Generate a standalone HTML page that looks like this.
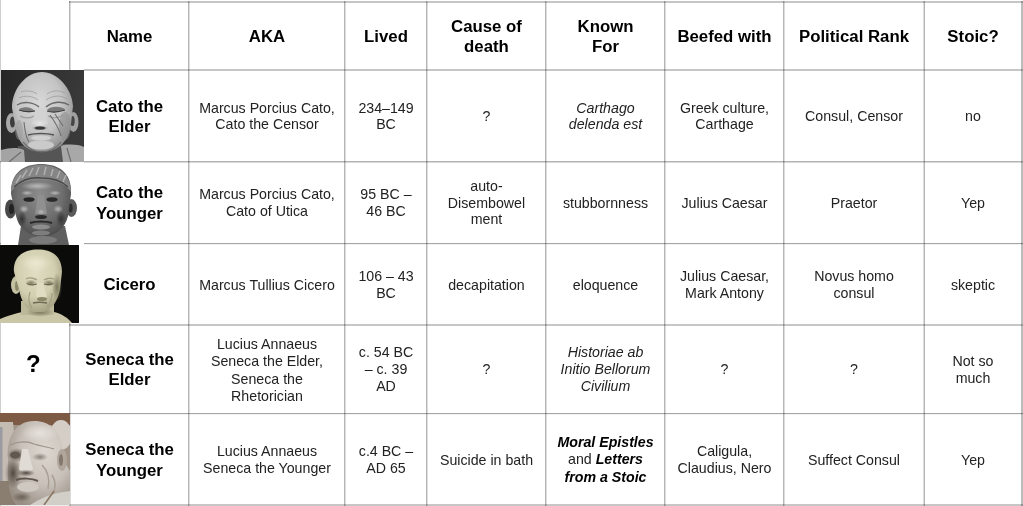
<!DOCTYPE html>
<html><head><meta charset="utf-8"><style>
html,body{margin:0;padding:0;background:#fff;width:1023px;height:506px;overflow:hidden;position:relative;font-family:"Liberation Sans",sans-serif;}
.l{position:absolute;background:#c2c2c2;mix-blend-mode:multiply;}
.c{position:absolute;will-change:transform;display:flex;align-items:center;justify-content:center;text-align:center;color:#222;font-size:14.2px;line-height:16.8px;padding-top:0.6px;box-sizing:border-box;}
.h{color:#000;font-weight:bold;font-size:16.8px;line-height:20.2px;padding-top:1.6px;box-sizing:border-box;}
.c b{color:#000;}
.n{font-size:16.8px;line-height:20.2px;padding-top:1.6px;box-sizing:border-box;}
.q{font-size:24px;position:relative;left:-2.2px;top:-3.4px;}
.img{position:absolute;overflow:hidden;}
</style></head><body><div style="position:absolute;left:0;top:0;width:1023px;height:506px;filter:blur(0.3px)">

<div class="c h" style="left:69.5px;top:2px;width:119px;height:68px"><div>Name</div></div>
<div class="c h" style="left:188.5px;top:2px;width:156px;height:68px"><div>AKA</div></div>
<div class="c h" style="left:344.5px;top:2px;width:82px;height:68px"><div>Lived</div></div>
<div class="c h" style="left:426.5px;top:2px;width:119px;height:68px"><div>Cause of<br>death</div></div>
<div class="c h" style="left:545.5px;top:2px;width:119px;height:68px"><div>Known<br>For</div></div>
<div class="c h" style="left:664.5px;top:2px;width:119px;height:68px"><div>Beefed with</div></div>
<div class="c h" style="left:783.5px;top:2px;width:140px;height:68px"><div>Political Rank</div></div>
<div class="c h" style="left:923.5px;top:2px;width:98px;height:68px"><div>Stoic?</div></div>
<div class="c n" style="left:69.5px;top:70px;width:119px;height:92px"><div><b>Cato the<br>Elder</b></div></div>
<div class="c" style="left:188.5px;top:70px;width:156px;height:92px"><div>Marcus Porcius Cato,<br>Cato the Censor</div></div>
<div class="c" style="left:344.5px;top:70px;width:82px;height:92px"><div>234–149<br>BC</div></div>
<div class="c" style="left:426.5px;top:70px;width:119px;height:92px"><div>?</div></div>
<div class="c" style="left:545.5px;top:70px;width:119px;height:92px"><div><i>Carthago<br>delenda est</i></div></div>
<div class="c" style="left:664.5px;top:70px;width:119px;height:92px"><div>Greek culture,<br>Carthage</div></div>
<div class="c" style="left:783.5px;top:70px;width:140px;height:92px"><div>Consul, Censor</div></div>
<div class="c" style="left:923.5px;top:70px;width:98px;height:92px"><div>no</div></div>
<div class="c n" style="left:69.5px;top:162px;width:119px;height:81.5px"><div><b>Cato the<br>Younger</b></div></div>
<div class="c" style="left:188.5px;top:162px;width:156px;height:81.5px"><div>Marcus Porcius Cato,<br>Cato of Utica</div></div>
<div class="c" style="left:344.5px;top:162px;width:82px;height:81.5px"><div>95 BC –<br>46 BC</div></div>
<div class="c" style="left:426.5px;top:162px;width:119px;height:81.5px"><div>auto-<br>Disembowel<br>ment</div></div>
<div class="c" style="left:545.5px;top:162px;width:119px;height:81.5px"><div>stubbornness</div></div>
<div class="c" style="left:664.5px;top:162px;width:119px;height:81.5px"><div>Julius Caesar</div></div>
<div class="c" style="left:783.5px;top:162px;width:140px;height:81.5px"><div>Praetor</div></div>
<div class="c" style="left:923.5px;top:162px;width:98px;height:81.5px"><div>Yep</div></div>
<div class="c n" style="left:69.5px;top:243.5px;width:119px;height:81.5px"><div><b>Cicero</b></div></div>
<div class="c" style="left:188.5px;top:243.5px;width:156px;height:81.5px"><div>Marcus Tullius Cicero</div></div>
<div class="c" style="left:344.5px;top:243.5px;width:82px;height:81.5px"><div>106 – 43<br>BC</div></div>
<div class="c" style="left:426.5px;top:243.5px;width:119px;height:81.5px"><div>decapitation</div></div>
<div class="c" style="left:545.5px;top:243.5px;width:119px;height:81.5px"><div>eloquence</div></div>
<div class="c" style="left:664.5px;top:243.5px;width:119px;height:81.5px"><div>Julius Caesar,<br>Mark Antony</div></div>
<div class="c" style="left:783.5px;top:243.5px;width:140px;height:81.5px"><div>Novus homo<br>consul</div></div>
<div class="c" style="left:923.5px;top:243.5px;width:98px;height:81.5px"><div>skeptic</div></div>
<div class="c" style="left:0.5px;top:325px;width:69px;height:88.5px"><div><b class="q">?</b></div></div>
<div class="c n" style="left:69.5px;top:325px;width:119px;height:88.5px"><div><b>Seneca the<br>Elder</b></div></div>
<div class="c" style="left:188.5px;top:325px;width:156px;height:88.5px"><div><div style="line-height:17.4px;padding-top:2px">Lucius Annaeus<br>Seneca the Elder,<br>Seneca the<br>Rhetorician</div></div></div>
<div class="c" style="left:344.5px;top:325px;width:82px;height:88.5px"><div>c. 54 BC<br>– c. 39<br>AD</div></div>
<div class="c" style="left:426.5px;top:325px;width:119px;height:88.5px"><div>?</div></div>
<div class="c" style="left:545.5px;top:325px;width:119px;height:88.5px"><div><i>Historiae ab<br>Initio Bellorum<br>Civilium</i></div></div>
<div class="c" style="left:664.5px;top:325px;width:119px;height:88.5px"><div>?</div></div>
<div class="c" style="left:783.5px;top:325px;width:140px;height:88.5px"><div>?</div></div>
<div class="c" style="left:923.5px;top:325px;width:98px;height:88.5px"><div>Not so<br>much</div></div>
<div class="c n" style="left:69.5px;top:413.5px;width:119px;height:91.5px"><div><b>Seneca the<br>Younger</b></div></div>
<div class="c" style="left:188.5px;top:413.5px;width:156px;height:91.5px"><div>Lucius Annaeus<br>Seneca the Younger</div></div>
<div class="c" style="left:344.5px;top:413.5px;width:82px;height:91.5px"><div>c.4 BC –<br>AD 65</div></div>
<div class="c" style="left:426.5px;top:413.5px;width:119px;height:91.5px"><div>Suicide in bath</div></div>
<div class="c" style="left:545.5px;top:413.5px;width:119px;height:91.5px"><div><div style="line-height:17.6px"><b><i>Moral Epistles</i></b><br>and <b><i>Letters<br>from a Stoic</i></b></div></div></div>
<div class="c" style="left:664.5px;top:413.5px;width:119px;height:91.5px"><div>Caligula,<br>Claudius, Nero</div></div>
<div class="c" style="left:783.5px;top:413.5px;width:140px;height:91.5px"><div>Suffect Consul</div></div>
<div class="c" style="left:923.5px;top:413.5px;width:98px;height:91.5px"><div>Yep</div></div>
<div class="l" style="left:69px;top:1px;width:954px;height:1px;background:#c6c6c6"></div>
<div class="l" style="left:69px;top:2px;width:954px;height:1px;background:#c6c6c6"></div>
<div class="l" style="left:84px;top:69px;width:939px;height:1px;background:#c6c6c6"></div>
<div class="l" style="left:84px;top:70px;width:939px;height:1px;background:#c6c6c6"></div>
<div class="l" style="left:0px;top:161px;width:1023px;height:1px;background:#b4b4b4"></div>
<div class="l" style="left:0px;top:162px;width:1023px;height:1px;background:#d8d8d8"></div>
<div class="l" style="left:0px;top:243px;width:1023px;height:1px;background:#a6a6a6"></div>
<div class="l" style="left:0px;top:244px;width:1023px;height:1px;background:#f2f2f2"></div>
<div class="l" style="left:69px;top:324px;width:954px;height:1px;background:#c6c6c6"></div>
<div class="l" style="left:69px;top:325px;width:954px;height:1px;background:#c6c6c6"></div>
<div class="l" style="left:0px;top:413px;width:1023px;height:1px;background:#a6a6a6"></div>
<div class="l" style="left:0px;top:414px;width:1023px;height:1px;background:#f2f2f2"></div>
<div class="l" style="left:70px;top:504px;width:953px;height:1px;background:#c6c6c6"></div>
<div class="l" style="left:70px;top:505px;width:953px;height:1px;background:#c6c6c6"></div>
<div class="l" style="left:0px;top:505px;width:70px;height:1px;background:#ececec"></div>
<div class="l" style="left:0px;top:0px;width:1px;height:506px;background:#cfcfcf"></div>
<div class="l" style="left:69px;top:1px;width:1px;height:505px;background:#b6b6b6"></div>
<div class="l" style="left:70px;top:1px;width:1px;height:505px;background:#dcdcdc"></div>
<div class="l" style="left:188px;top:1px;width:1px;height:505px;background:#b6b6b6"></div>
<div class="l" style="left:189px;top:1px;width:1px;height:505px;background:#dcdcdc"></div>
<div class="l" style="left:344px;top:1px;width:1px;height:505px;background:#b6b6b6"></div>
<div class="l" style="left:345px;top:1px;width:1px;height:505px;background:#dcdcdc"></div>
<div class="l" style="left:426px;top:1px;width:1px;height:505px;background:#b6b6b6"></div>
<div class="l" style="left:427px;top:1px;width:1px;height:505px;background:#dcdcdc"></div>
<div class="l" style="left:545px;top:1px;width:1px;height:505px;background:#b6b6b6"></div>
<div class="l" style="left:546px;top:1px;width:1px;height:505px;background:#dcdcdc"></div>
<div class="l" style="left:664px;top:1px;width:1px;height:505px;background:#b6b6b6"></div>
<div class="l" style="left:665px;top:1px;width:1px;height:505px;background:#dcdcdc"></div>
<div class="l" style="left:783px;top:1px;width:1px;height:505px;background:#b6b6b6"></div>
<div class="l" style="left:784px;top:1px;width:1px;height:505px;background:#dcdcdc"></div>
<div class="l" style="left:923px;top:1px;width:1px;height:505px;background:#dcdcdc"></div>
<div class="l" style="left:924px;top:1px;width:1px;height:505px;background:#b6b6b6"></div>
<div class="l" style="left:1021px;top:1px;width:1px;height:505px;background:#bcbcbc"></div>
<div class="l" style="left:1022px;top:1px;width:1px;height:505px;background:#bcbcbc"></div>
<div class="img" style="left:1px;top:70px;width:83px;height:92px"><svg width="83" height="92" viewBox="0 0 83 92">
<defs>
<linearGradient id="bg1" x1="0" y1="0" x2="1" y2="0.3"><stop offset="0" stop-color="#262626"/><stop offset="1" stop-color="#3a3a3a"/></linearGradient>
<radialGradient id="hd1" cx="0.45" cy="0.4" r="0.62"><stop offset="0" stop-color="#d8d8d8"/><stop offset="0.6" stop-color="#c4c4c4"/><stop offset="1" stop-color="#909090"/></radialGradient>
<radialGradient id="dk1" cx="0.5" cy="0.5" r="0.5"><stop offset="0" stop-color="#404040"/><stop offset="1" stop-color="#404040" stop-opacity="0"/></radialGradient>
<radialGradient id="lt1" cx="0.5" cy="0.5" r="0.5"><stop offset="0" stop-color="#e4e4e4"/><stop offset="1" stop-color="#e4e4e4" stop-opacity="0"/></radialGradient>
<filter id="b1" x="-10%" y="-10%" width="120%" height="120%"><feGaussianBlur stdDeviation="0.6"/></filter>
</defs>
<rect width="83" height="92" fill="url(#bg1)"/>
<g filter="url(#b1)">
<path d="M17 76 L66 74 L66 92 L18 92Z" fill="#555"/>
<path d="M0 80 C8 78 16 77 23 80 L24 92 L0 92Z" fill="#a4a4a4"/>
<path d="M60 76 C66 74 76 74 83 77 L83 92 L62 92Z" fill="#a8a8a8"/>
<path d="M8 92 L20 82 M66 78 L70 92" stroke="#6e6e6e" stroke-width="1.2"/>
<ellipse cx="10.5" cy="53" rx="5.5" ry="10" fill="#a8a8a8"/>
<ellipse cx="11.5" cy="52" rx="2.5" ry="5.5" fill="#3e3e3e"/>
<ellipse cx="72.5" cy="52" rx="5" ry="10" fill="#a0a0a0"/>
<ellipse cx="71.5" cy="51" rx="2.2" ry="5" fill="#444"/>
<path d="M11 38 C11 18 26 2 41 2 C56 2 71 18 72 36 L70 54 C68 68 62 76 52 80 C46 82 36 82 30 80 C20 76 16 68 14 54Z" fill="url(#hd1)"/>
<ellipse cx="64" cy="56" rx="6" ry="14" fill="#8e8e8e" opacity="0.55"/>
<ellipse cx="18" cy="60" rx="4" ry="10" fill="#9a9a9a" opacity="0.5"/>
<path d="M20 22 C26 20 32 21 36 24 M46 24 C52 20 58 20 64 23 M18 28 C24 25 32 26 37 30 M45 30 C52 25 60 25 66 29" stroke="#a2a2a2" stroke-width="0.9" fill="none"/>
<path d="M16 35 C22 31 32 32 38 37 M45 37 C52 31 62 31 68 35" stroke="#6a6a6a" stroke-width="1.5" fill="none"/>
<path d="M18 39 C24 36 30 37 34 41 C30 43 22 43 18 39Z" fill="#7a7a7a"/>
<path d="M46 40 C50 36 58 36 64 39 C58 43 50 43 46 40Z" fill="#7a7a7a"/>
<path d="M18 40 C23 42 29 42 34 41 M46 41 C52 43 58 42 64 40" stroke="#404040" stroke-width="1.2" fill="none"/>
<path d="M19 46 C24 49 30 48 33 46 M47 46 C52 49 58 48 62 45" stroke="#9a9a9a" stroke-width="1.1" fill="none"/>
<path d="M35 38 L31 54 L47 54 L43 38Z" fill="#d2d2d2"/>
<ellipse cx="39" cy="54" rx="8" ry="5" fill="url(#lt1)"/>
<ellipse cx="39" cy="58" rx="8" ry="2.5" fill="url(#dk1)"/>
<ellipse cx="39" cy="58" rx="5" ry="1.5" fill="#383838"/>
<path d="M27 65 C34 63 46 63 53 65" stroke="#555" stroke-width="1.6" fill="none"/>
<ellipse cx="40" cy="68" rx="10" ry="2.5" fill="#d0d0d0"/>
<ellipse cx="40" cy="75" rx="13" ry="4.5" fill="#cacaca"/>
<path d="M23 52 C24 60 24 66 28 72 M49 45 C54 52 58 58 60 66 M54 44 L62 56" stroke="#6e6e6e" stroke-width="1.1" fill="none"/>
<path d="M22 72 C28 80 36 82 40 82 C46 82 54 80 60 72" stroke="#6a6a6a" stroke-width="1.2" fill="none"/>
</g>
</svg></div>
<div class="img" style="left:1px;top:162px;width:83px;height:83px"><svg width="83" height="83" viewBox="0 0 83 83">
<defs>
<radialGradient id="hd2" cx="0.48" cy="0.42" r="0.62"><stop offset="0" stop-color="#8c8c8c"/><stop offset="0.6" stop-color="#6e6e6e"/><stop offset="1" stop-color="#4a4a4a"/></radialGradient>
<radialGradient id="hl2" cx="0.5" cy="0.5" r="0.5"><stop offset="0" stop-color="#b8b8b8"/><stop offset="1" stop-color="#b8b8b8" stop-opacity="0"/></radialGradient>
<radialGradient id="sd2" cx="0.5" cy="0.5" r="0.5"><stop offset="0" stop-color="#333"/><stop offset="1" stop-color="#333" stop-opacity="0"/></radialGradient>
<filter id="b2" x="-10%" y="-10%" width="120%" height="120%"><feGaussianBlur stdDeviation="0.6"/></filter>
</defs>
<rect width="83" height="83" fill="#fff"/>
<g filter="url(#b2)">
<path d="M20 64 L64 64 L68 83 L17 83Z" fill="#5e5e5e"/>
<ellipse cx="42" cy="78" rx="14" ry="4" fill="#7a7a7a"/>
<ellipse cx="9.5" cy="47" rx="5.5" ry="9.5" fill="#4a4a4a"/>
<ellipse cx="10.5" cy="47" rx="2.5" ry="5" fill="#222"/>
<ellipse cx="70.5" cy="46" rx="5.5" ry="9" fill="#5a5a5a"/>
<ellipse cx="69.5" cy="46" rx="2.2" ry="4.5" fill="#2e2e2e"/>
<path d="M10 32 C9 10 24 2 40 2 C57 2 71 10 70 32 L67 54 C64 66 56 72 47 74 L35 74 C26 72 18 66 15 54Z" fill="url(#hd2)"/>
<path d="M10 30 C10 12 24 3 40 3 C56 3 70 12 70 30 C64 21 54 18 40 18 C26 18 16 21 10 30Z" fill="#858585"/>
<path d="M15 21 L20 13 M21 16 L26 8 M28 14 L32 6 M35 13 L38 5 M43 13 L45 5 M50 14 L52 7 M56 16 L59 9 M62 20 L65 13" stroke="#b0b0b0" stroke-width="1.5"/>
<path d="M13 25 C22 17 32 15 40 16 C50 16 60 18 67 25" stroke="#4a4a4a" stroke-width="1.6" fill="none"/>
<ellipse cx="36" cy="24" rx="16" ry="4" fill="url(#hl2)"/>
<ellipse cx="26" cy="31" rx="6" ry="2.5" fill="url(#hl2)"/>
<ellipse cx="54" cy="31" rx="6" ry="2.5" fill="url(#hl2)"/>
<ellipse cx="28" cy="37.5" rx="5.5" ry="2.3" fill="#262626"/>
<ellipse cx="51" cy="37.5" rx="5.5" ry="2.3" fill="#2a2a2a"/>
<path d="M37 33 L34 52 L46 52 L43 33Z" fill="#909090"/>
<ellipse cx="40" cy="50" rx="4" ry="3" fill="url(#hl2)"/>
<ellipse cx="40" cy="55" rx="6" ry="2" fill="#2a2a2a"/>
<ellipse cx="23" cy="47" rx="5" ry="4" fill="url(#hl2)"/>
<ellipse cx="57" cy="47" rx="5" ry="4" fill="url(#hl2)"/>
<ellipse cx="21" cy="57" rx="5" ry="8" fill="url(#sd2)"/>
<ellipse cx="60" cy="57" rx="5" ry="8" fill="url(#sd2)"/>
<path d="M29 61 C35 59 45 59 51 61" stroke="#2a2a2a" stroke-width="2" fill="none"/>
<ellipse cx="40" cy="65" rx="9" ry="2.5" fill="#8e8e8e"/>
<ellipse cx="40" cy="71" rx="9" ry="2.5" fill="#7e7e7e"/>
</g>
</svg></div>
<div class="img" style="left:0px;top:245px;width:79px;height:78px"><svg width="79" height="78" viewBox="0 0 79 78">
<defs>
<radialGradient id="hd3" cx="0.45" cy="0.36" r="0.66"><stop offset="0" stop-color="#e2dec4"/><stop offset="0.6" stop-color="#d2ceb0"/><stop offset="1" stop-color="#a4a082"/></radialGradient>
<radialGradient id="sd3" cx="0.5" cy="0.5" r="0.5"><stop offset="0" stop-color="#7e7a5e"/><stop offset="1" stop-color="#7e7a5e" stop-opacity="0"/></radialGradient>
<radialGradient id="lt3" cx="0.5" cy="0.5" r="0.5"><stop offset="0" stop-color="#ece8d0"/><stop offset="1" stop-color="#ece8d0" stop-opacity="0"/></radialGradient>
<filter id="b3" x="-10%" y="-10%" width="120%" height="120%"><feGaussianBlur stdDeviation="0.6"/></filter>
</defs>
<rect width="79" height="78" fill="#0b0b09"/>
<g filter="url(#b3)">
<path d="M0 74 C6 71 14 69 22 67 L54 67 C62 69 68 73 72 78 L0 78Z" fill="#cac6a8"/>
<path d="M21 56 L54 56 L54 70 L21 70Z" fill="#bcb89a"/>
<ellipse cx="40" cy="67" rx="14" ry="5" fill="url(#sd3)"/>
<ellipse cx="16" cy="40" rx="5" ry="9" fill="#c4c0a2"/>
<ellipse cx="17" cy="41" rx="2" ry="5" fill="#8a8668"/>
<path d="M14 27 C13 11 24 4.5 38 4.5 C52 4.5 62 11 62 27 L60 44 C58 56 52 64 44 67 L33 67 C26 64 21 56 19 44Z" fill="url(#hd3)"/>
<ellipse cx="36" cy="18" rx="16" ry="9" fill="url(#lt3)"/>
<ellipse cx="57" cy="42" rx="5" ry="14" fill="url(#sd3)"/>
<ellipse cx="31" cy="38" rx="6" ry="3.5" fill="url(#sd3)"/>
<ellipse cx="49" cy="38" rx="6" ry="3.5" fill="url(#sd3)"/>
<path d="M26 34 C29 32 34 33 37 35 M44 35 C47 33 51 33 54 34" stroke="#a4a084" stroke-width="1.3" fill="none"/>
<path d="M27 38.5 C30 40 34 40 37 39 M44 39 C47 40 50 40 53 38.5" stroke="#6a6650" stroke-width="1.2" fill="none"/>
<path d="M37 38 L36 51 C38 54 44 54 47 52 L43 38Z" fill="#e0dcc2"/>
<ellipse cx="42" cy="54" rx="5" ry="2" fill="#8a8668"/>
<path d="M33 58 C37 57 42 57 47 58" stroke="#6e6a52" stroke-width="1.4" fill="none"/>
<path d="M30 47 C28 53 29 59 32 63 M52 48 C52 54 50 59 47 62" stroke="#a29e82" stroke-width="1.2" fill="none"/>
</g>
</svg></div>
<div class="img" style="left:0px;top:413px;width:70px;height:92px"><svg width="70" height="92" viewBox="0 0 70 92">
<defs>
<radialGradient id="hd4" cx="0.6" cy="0.36" r="0.72"><stop offset="0" stop-color="#dcd7d0"/><stop offset="0.55" stop-color="#c8c1b9"/><stop offset="1" stop-color="#988e84"/></radialGradient>
<radialGradient id="sh4" cx="0.5" cy="0.5" r="0.5"><stop offset="0" stop-color="#544a42"/><stop offset="1" stop-color="#544a42" stop-opacity="0"/></radialGradient>
<radialGradient id="lt4" cx="0.5" cy="0.5" r="0.5"><stop offset="0" stop-color="#e6e2dc"/><stop offset="1" stop-color="#e6e2dc" stop-opacity="0"/></radialGradient>
<filter id="b4" x="-10%" y="-10%" width="120%" height="120%"><feGaussianBlur stdDeviation="0.7"/></filter>
</defs>
<rect width="70" height="92" fill="#a09488"/>
<rect width="70" height="12" fill="#7c5a44"/>
<g filter="url(#b4)">
<path d="M0 9 L13 9 L14 20 L12 50 L14 68 L0 70Z" fill="#c4bcb2"/>
<path d="M0 14 L2.5 14 L2.5 68 L0 68Z" fill="#9a9aa0"/>
<path d="M0 68 L14 68 L18 92 L0 92Z" fill="#8a7e70"/>
<ellipse cx="61" cy="22" rx="11" ry="15" fill="#d4cec6"/>
<path d="M8 46 C6 24 16 8 34 8 C50 8 60 18 62 32 L65 50 L70 58 L70 92 L16 92 C10 84 8 72 8 60Z" fill="url(#hd4)"/>
<ellipse cx="40" cy="20" rx="18" ry="9" fill="url(#lt4)"/>
<ellipse cx="62" cy="47" rx="5" ry="11" fill="#b0a69c"/>
<ellipse cx="61" cy="47" rx="2" ry="6" fill="#82776c"/>
<path d="M10 32 C18 28 28 28 34 31 C40 33 48 34 54 36" stroke="#9c9288" stroke-width="1.2" fill="none"/>
<ellipse cx="17" cy="42" rx="10" ry="7" fill="url(#sh4)"/>
<ellipse cx="15" cy="42" rx="5" ry="3.5" fill="#62584f"/>
<ellipse cx="13" cy="60" rx="8" ry="16" fill="url(#sh4)"/>
<ellipse cx="40" cy="44" rx="8" ry="4" fill="url(#sh4)" opacity="0.6"/>
<path d="M22 36 L19 56 C22 60 30 60 33 56 L28 36Z" fill="#e0dbd4"/>
<ellipse cx="26" cy="60" rx="9" ry="3.5" fill="url(#sh4)"/>
<path d="M16 67 C22 65 32 65 38 68" stroke="#62584f" stroke-width="2" fill="none"/>
<ellipse cx="28" cy="74" rx="11" ry="5" fill="#cec8c0"/>
<ellipse cx="22" cy="84" rx="10" ry="5" fill="url(#sh4)" opacity="0.7"/>
<path d="M42 52 C48 58 50 66 48 76 M52 62 C56 68 56 76 52 84" stroke="#a89e94" stroke-width="1.4" fill="none"/>
<path d="M30 92 C40 86 50 80 70 78 L70 92Z" fill="#d2cec8"/>
<path d="M44 92 L54 78" stroke="#8a7460" stroke-width="1.5"/>
</g>
</svg></div>
</div></body></html>
